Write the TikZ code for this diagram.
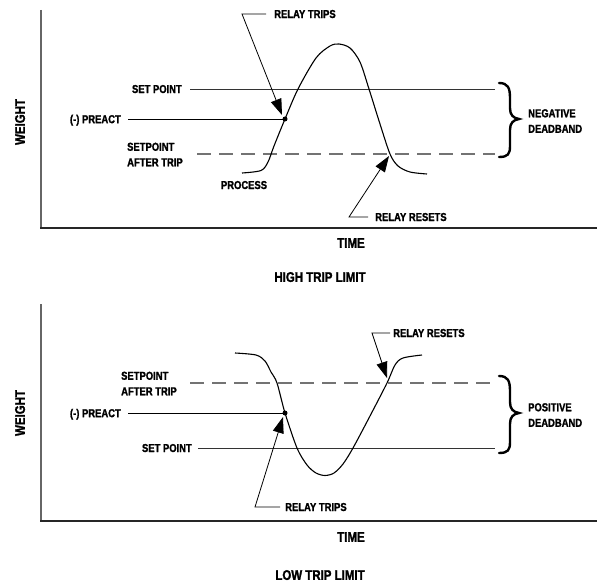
\documentclass[tikz,border=0pt]{standalone}
\usepackage{fontspec}
\newfontfamily\lblfont{Liberation Sans}[FakeStretch=0.82, BoldFeatures={FakeBold=1.5}]
\usetikzlibrary{arrows.meta}
\begin{document}
\begin{tikzpicture}[x=1pt,y=-1pt,
 lbl/.style={inner sep=0pt, font=\lblfont\bfseries\fontsize{11.5}{15.5}\selectfont, align=left, text depth=0pt},
 ttl/.style={inner sep=0pt, font=\lblfont\bfseries\fontsize{14}{16}\selectfont, text depth=0pt},
 axisv/.style={draw=black!60, line width=2pt},
 axish/.style={draw=black!85, line width=1.4pt},
 ref/.style={draw=black!80, line width=0.9pt},
 pre/.style={draw=black, line width=0.9pt},
 dsh/.style={draw=black!55, line width=1.4pt, dash pattern=on 14pt off 8pt},
 proc/.style={draw=black, line width=1.1pt},
 ptr/.style={draw=black, line width=0.8pt, -{Triangle[length=16pt,width=11pt]}},
 brc/.style={draw=black, line width=2.4pt, line cap=round},
 dot/.style={circle, fill=black, inner sep=0pt, minimum size=5pt}
]
\useasboundingbox (0,0) rectangle (597,583);
% ================= TOP PANEL =================
\coordinate (ytop1) at (41,10);
\coordinate (o1) at (41,228);
\coordinate (ox1) at (40,228);
\coordinate (xend1) at (597,228);
\draw[axisv] (ytop1) -- (o1);
\draw[axish] (ox1) -- (xend1);
\node[ttl, rotate=90] (w1) at (20,122) {WEIGHT};
\node[ttl] (t1) at (351,243) {TIME};
\node[ttl] (h1) at (320,277) {HIGH TRIP LIMIT};
\node[lbl, anchor=east] (sp1) at (182,89) {SET POINT};
\node[lbl, anchor=east] (pr1) at (121,119) {(-) PREACT};
\node[lbl, anchor=west] (sa1) at (127,154.5) {SETPOINT\\AFTER TRIP};
\node[lbl] (pc1) at (244,185) {PROCESS};
\node[lbl, anchor=west] (rt1) at (274,14) {RELAY TRIPS};
\node[lbl, anchor=west] (rr1) at (375,217) {RELAY RESETS};
\node[lbl, anchor=west] (nd1) at (528,121) {NEGATIVE\\DEADBAND};
\coordinate (spS1) at (190,89); \coordinate (spE1) at (495,89);
\draw[ref] (spS1) -- (spE1);
\coordinate (prS1) at (128,119);
\node[dot] (d1) at (285,119) {};
\draw[pre] (prS1) -- (d1.center);
\coordinate (saS1) at (197,154); \coordinate (saE1) at (495,154);
\draw[dsh] (saS1) -- (saE1);
\draw[proc] plot[smooth, tension=0.5] coordinates {(242,173) (261,170.5) (268,162) (274,146) (285,119) (298,89) (316,58) (330,46) (339,44) (350,48) (360,62) (369,89) (380,124) (390,154) (398,166) (410,172) (427,174)};
\coordinate (rtL1) at (266,14); \coordinate (rtK1) at (242,14); \coordinate (rtT1) at (282,115);
\draw[ptr] (rtL1) -- (rtK1) -- (rtT1);
\coordinate (rrL1) at (368,217); \coordinate (rrK1) at (349,217); \coordinate (rrT1) at (389,156);
\draw[ptr] (rrL1) -- (rrK1) -- (rrT1);
\draw[brc] (499,83) .. controls (508,83) and (510,88) .. (510,98) -- (510,108) .. controls (510,115) and (513,118) .. (519,119) .. controls (513,120) and (510,123) .. (510,130) -- (510,146) .. controls (510,154) and (508,157) .. (499,157);
% ================= BOTTOM PANEL =================
\coordinate (ytop2) at (41,304);
\coordinate (o2) at (41,521);
\coordinate (ox2) at (40,521);
\coordinate (xend2) at (597,521);
\draw[axisv] (ytop2) -- (o2);
\draw[axish] (ox2) -- (xend2);
\node[ttl, rotate=90] (w2) at (20,413) {WEIGHT};
\node[ttl] (t2) at (351,537) {TIME};
\node[ttl] (h2) at (320,575) {LOW TRIP LIMIT};
\node[lbl, anchor=west] (sa2) at (121,383.5) {SETPOINT\\AFTER TRIP};
\node[lbl, anchor=east] (pr2) at (121,413) {(-) PREACT};
\node[lbl, anchor=east] (sp2) at (192,448) {SET POINT};
\node[lbl, anchor=west] (rt2) at (285,507) {RELAY TRIPS};
\node[lbl, anchor=west] (rr2) at (393,333) {RELAY RESETS};
\node[lbl, anchor=west] (nd2) at (528,415) {POSITIVE\\DEADBAND};
\coordinate (saS2) at (190,383); \coordinate (saE2) at (495,383);
\draw[dsh] (saS2) -- (saE2);
\coordinate (prS2) at (128,413);
\node[dot] (d2) at (285,413) {};
\draw[pre] (prS2) -- (d2.center);
\coordinate (spS2) at (198,448); \coordinate (spE2) at (495,448);
\draw[ref] (spS2) -- (spE2);
\draw[proc] plot[smooth, tension=0.5] coordinates {(235,353) (256,355) (265,361) (271,372) (277,383) (285,413) (297,448) (307,465) (316,473) (325,475.5) (334,473) (343,464) (353,448) (370,416) (387,383) (395,365) (403,358) (422,355)};
\coordinate (rtL2) at (280,507); \coordinate (rtK2) at (255,507); \coordinate (rtT2) at (283,417);
\draw[ptr] (rtL2) -- (rtK2) -- (rtT2);
\coordinate (rrL2) at (390,333); \coordinate (rrK2) at (372,333); \coordinate (rrT2) at (387,378);
\draw[ptr] (rrL2) -- (rrK2) -- (rrT2);
\draw[brc] (499,376) .. controls (508,376) and (510,381) .. (510,391) -- (510,402) .. controls (510,409) and (513,412) .. (519,413) .. controls (513,414) and (510,417) .. (510,424) -- (510,442) .. controls (510,450) and (508,453) .. (499,453);
\end{tikzpicture}
\end{document}
